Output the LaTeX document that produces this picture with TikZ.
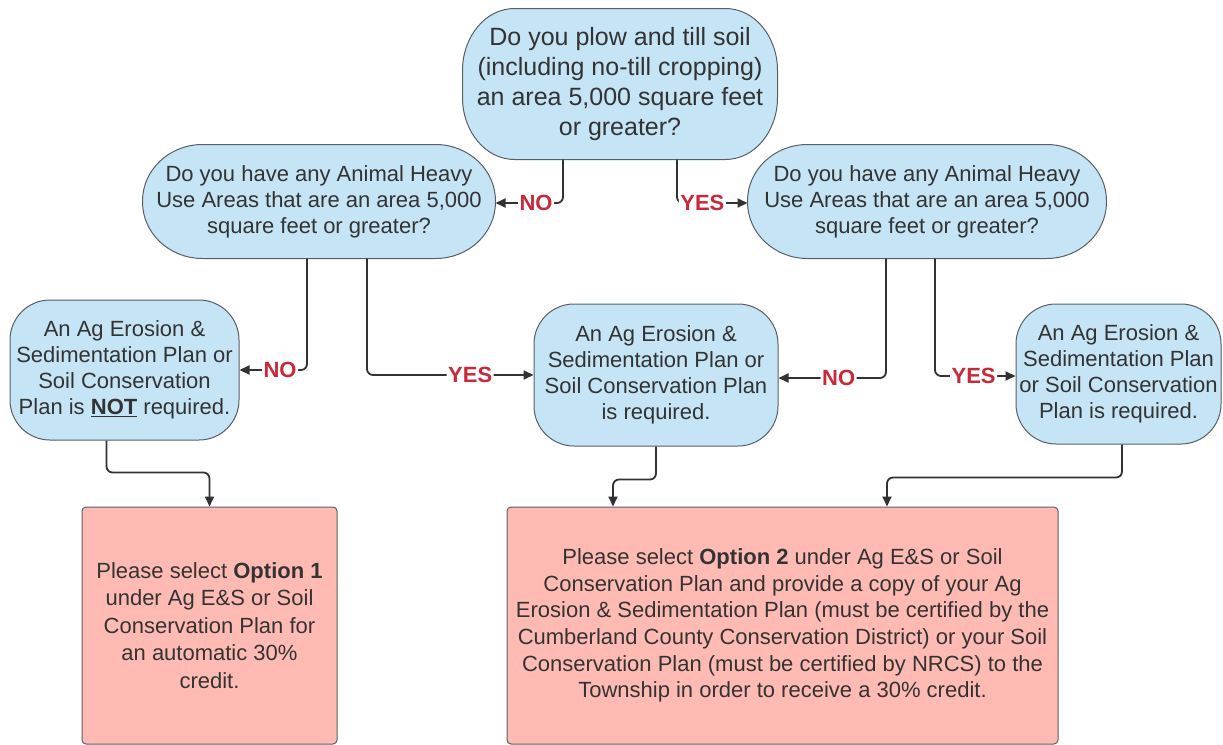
\documentclass[tikz,border=0pt]{standalone}
\usepackage{fontspec}
\setmainfont{Liberation Sans}
\usetikzlibrary{arrows.meta,backgrounds}
\definecolor{qblue}{RGB}{197,228,245}
\definecolor{qpink}{RGB}{255,187,179}
\definecolor{qtext}{RGB}{51,51,51}
\definecolor{qedge}{RGB}{90,95,100}
\definecolor{qline}{RGB}{50,50,50}
\definecolor{qred}{RGB}{200,40,55}
\pgfdeclarelayer{bottom}
\pgfsetlayers{bottom,background,main}
\newcommand\qshape[3]{%
  \path[draw=qedge,fill=qblue,line width=1pt]
    ([xshift=#2]#1.north west) -- ([xshift=-#2]#1.north east)
    arc[start angle=90,end angle=0,x radius=#2,y radius=#3]
    -- ([yshift=#3]#1.south east)
    arc[start angle=0,end angle=-90,x radius=#2,y radius=#3]
    -- ([xshift=#2]#1.south west)
    arc[start angle=270,end angle=180,x radius=#2,y radius=#3]
    -- ([yshift=-#3]#1.north west)
    arc[start angle=180,end angle=90,x radius=#2,y radius=#3] -- cycle;}
\tikzset{
  base/.style={draw=qedge, line width=1pt, text=qtext, align=center, inner sep=0pt,
    font=\fontsize{22}{26}\selectfont},
  question/.style={base, draw=none},
  answer/.style={base, fill=qblue, rounded corners=40pt},
  result/.style={base, fill=qpink, rounded corners=4pt},
  conn/.style={draw=qline, line width=1.8pt, rounded corners=6pt,
    -{Triangle[length=10pt,width=9pt]}},
  lab/.style={fill=white, inner sep=1.5pt, text=qred,
    font=\bfseries\fontsize{22}{22}\selectfont},
}
\begin{document}
\begin{tikzpicture}[x=1pt,y=-1pt]
\begin{pgfonlayer}{bottom}
\fill[white] (0,0) rectangle (1223,744);
\end{pgfonlayer}
\useasboundingbox (0,0) rectangle (1223,744);

\node[question, minimum width=314pt, minimum height=150pt,
  font=\fontsize{25}{30}\selectfont] (top) at (620,84)
  {Do you plow and till soil\\(including no-till cropping)\\an area 5,000 square feet\\or greater?};

\node[question, minimum width=352pt, minimum height=113pt] (L1) at (319,201.5)
  {Do you have any Animal Heavy\\Use Areas that are an area 5,000\\square feet or greater?};
\node[question, minimum width=358pt, minimum height=113pt] (R1) at (927,201.5)
  {Do you have any Animal Heavy\\Use Areas that are an area 5,000\\square feet or greater?};

\begin{scope}[on background layer]
  \qshape{top}{52pt}{62pt}
  \qshape{L1}{60pt}{56.5pt}
  \qshape{R1}{60pt}{56.5pt}
\end{scope}

\node[answer, minimum width=229pt, minimum height=140pt] (LL) at (124.5,370)
  {An Ag Erosion \&\\Sedimentation Plan or\\Soil Conservation\\Plan is \underline{\textbf{NOT}} required.};
\node[answer, minimum width=244pt, minimum height=142pt] (M) at (656,375)
  {An Ag Erosion \&\\Sedimentation Plan or\\Soil Conservation Plan\\is required.};
\node[answer, minimum width=205pt, minimum height=140pt] (RR) at (1118.5,374)
  {An Ag Erosion \&\\Sedimentation Plan\\or Soil Conservation\\Plan is required.};

\node[result, minimum width=255pt, minimum height=237pt,
  font=\fontsize{22}{27.5}\selectfont] (B1) at (209.5,625.5)
  {Please select \textbf{Option 1}\\under Ag E\&S or Soil\\Conservation Plan for\\an automatic 30\%\\credit.};
\node[result, minimum width=551pt, minimum height=237pt,
  font=\fontsize{22}{26.6}\selectfont] (B2) at (782.5,625.5)
  {Please select \textbf{Option 2} under Ag E\&S or Soil\\Conservation Plan and provide a copy of your Ag\\Erosion \& Sedimentation Plan (must be certified by the\\Cumberland County Conservation District) or your Soil\\Conservation Plan (must be certified by NRCS) to the\\Township in order to receive a 30\% credit.};

\draw[conn] ([xshift=-57pt]top.south) |- node[lab, pos=0.7]{NO} ([yshift=-1.5pt]L1.east);
\draw[conn] ([xshift=57pt]top.south) |- node[lab, pos=0.68]{YES} ([yshift=-1.5pt]R1.west);

\draw[conn] ([xshift=-12pt]L1.south) |- node[lab, pos=0.7]{NO} (LL.east);
\draw[conn] ([xshift=48pt]L1.south) |- node[lab, pos=0.81]{YES} (M.west);
\draw[conn] ([xshift=-41pt]R1.south) |- node[lab, pos=0.72]{NO} ([yshift=-3pt]M.east);
\draw[conn] ([xshift=8pt]R1.south) |- node[lab, pos=0.74]{YES} ([yshift=-2pt]RR.west);

\draw[conn] ([xshift=-18pt]LL.south) -- ++(0,32) -| (B1.north);
\draw[conn] (M.south) -- ++(0,33) -| ([xshift=-169.5pt]B2.north);
\draw[conn] ([xshift=3.5pt]RR.south) -- ++(0,33) -| ([xshift=104.5pt]B2.north);
\end{tikzpicture}
\end{document}
